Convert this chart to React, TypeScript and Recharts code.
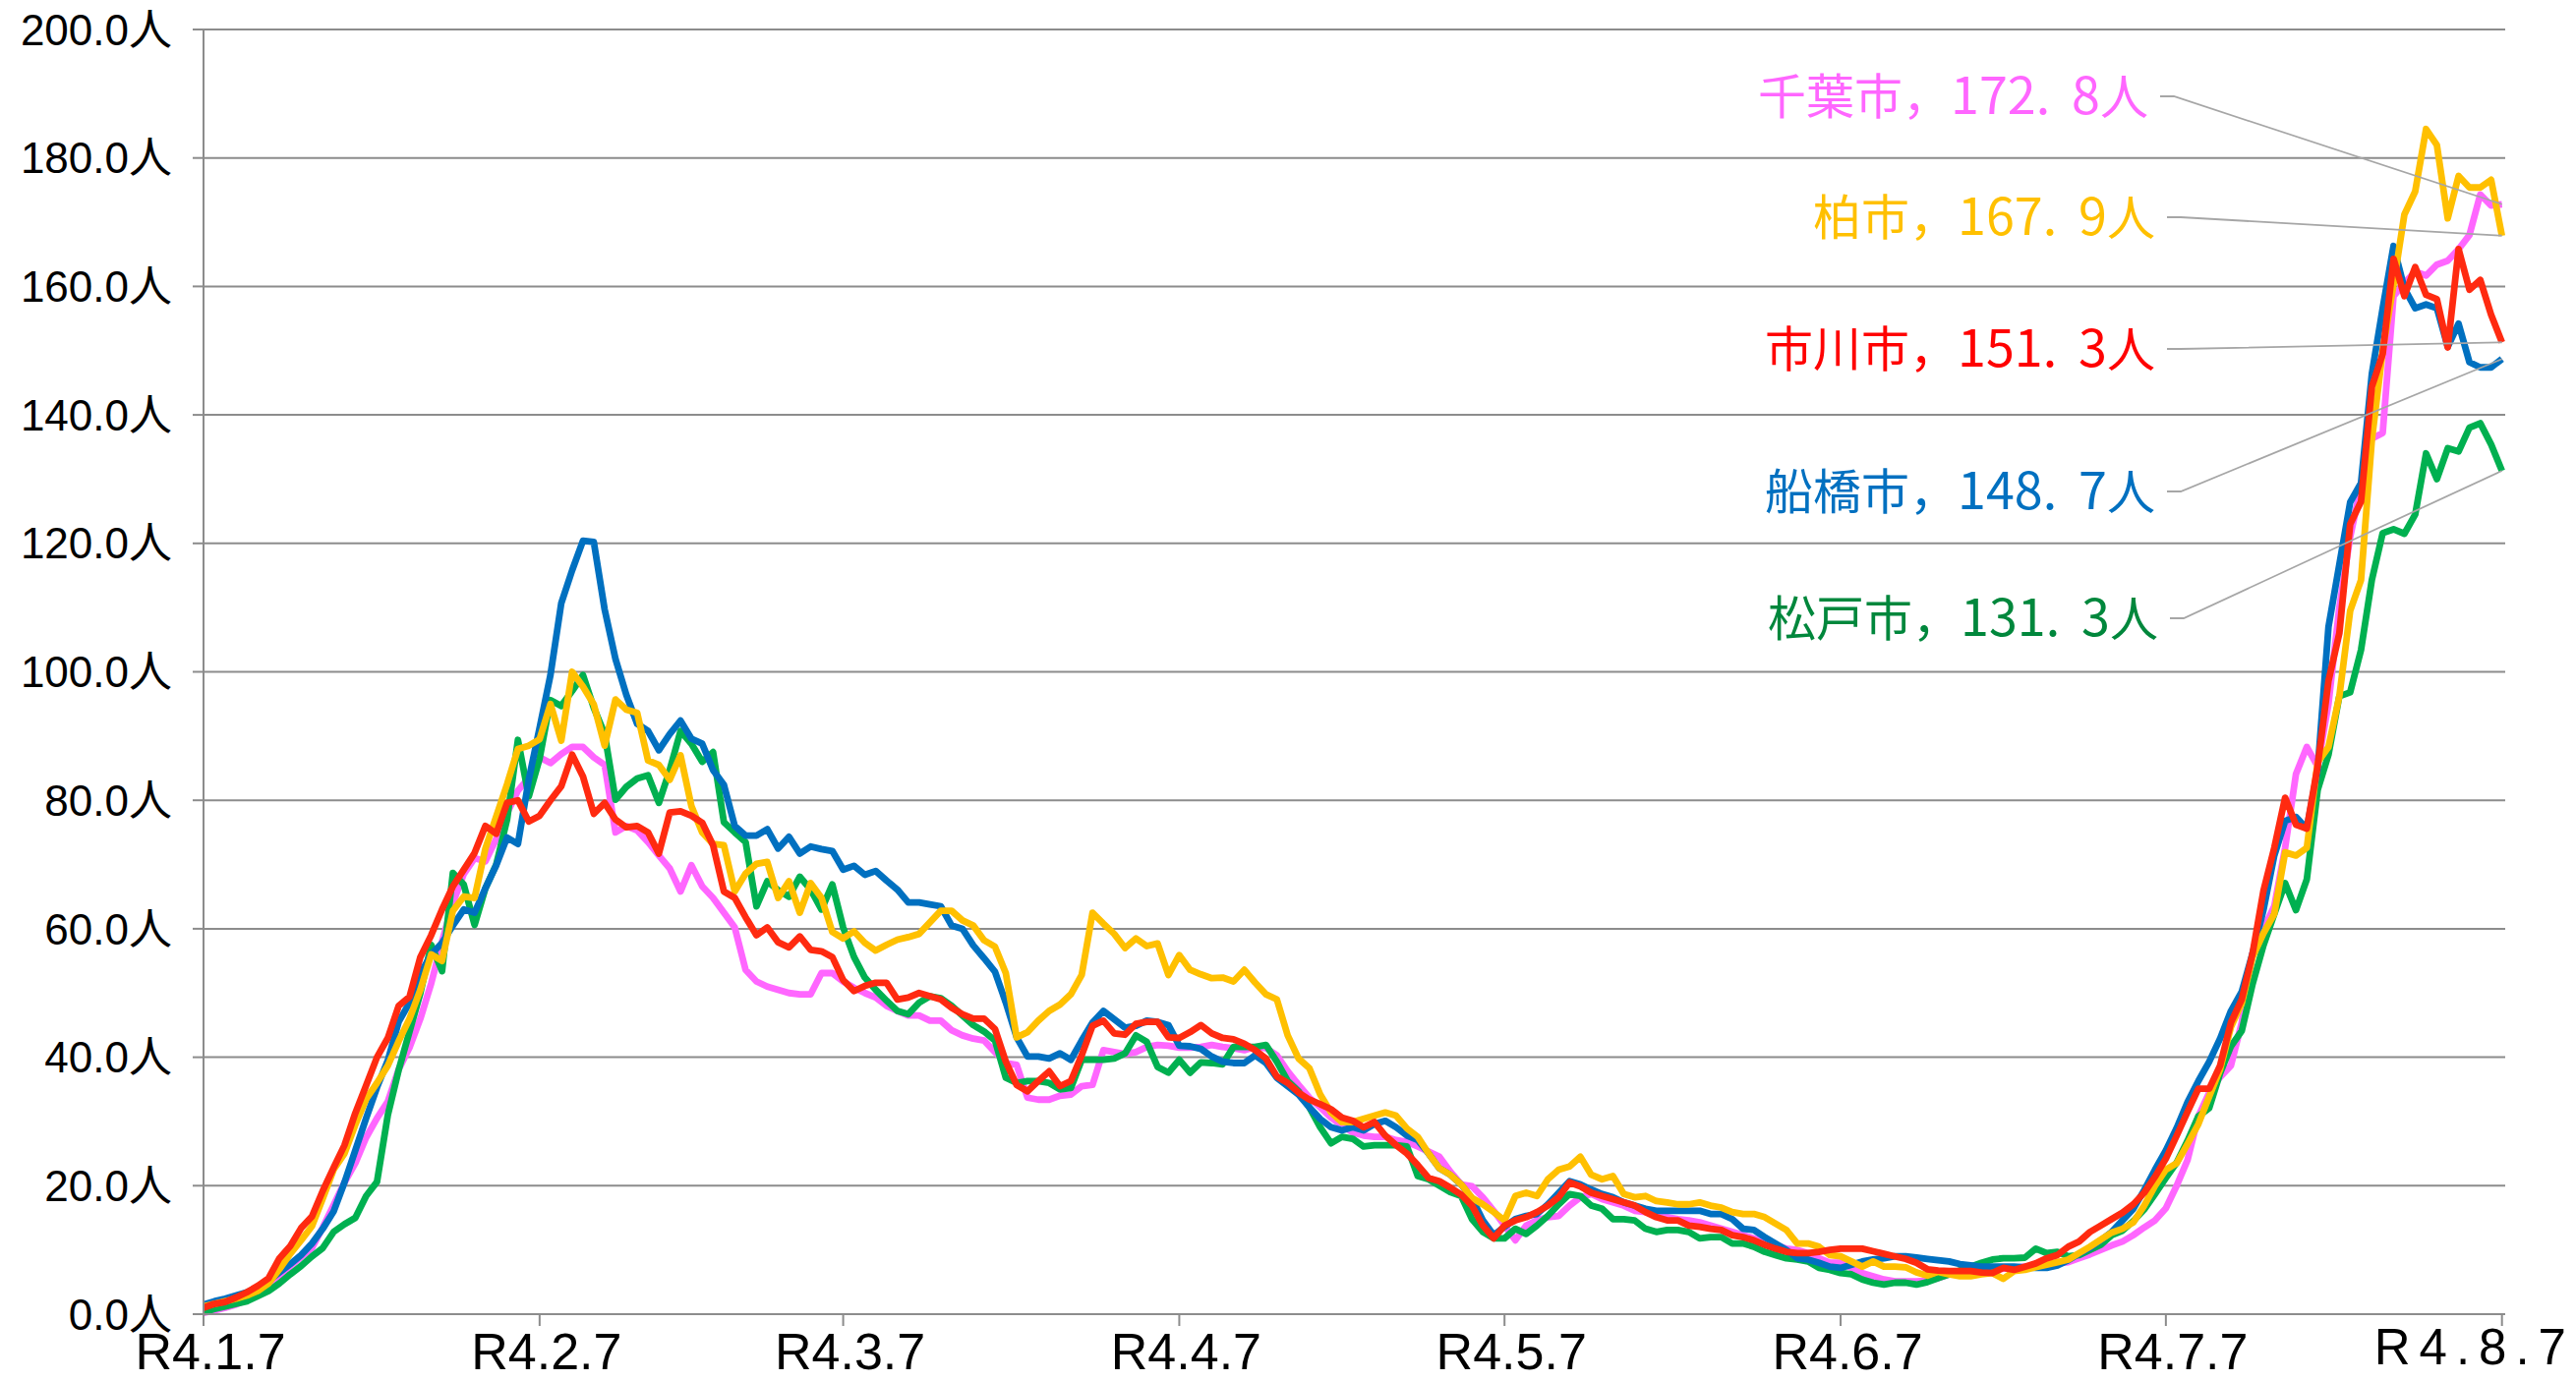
import React from 'react';
import { LineChart, Line, XAxis, YAxis, CartesianGrid, LabelList } from 'recharts';

const TICK_DAYS = [0, 31, 59, 90, 120, 151, 181, 212];
const TICK_LABELS = ['R4.1.7', 'R4.2.7', 'R4.3.7', 'R4.4.7', 'R4.5.7', 'R4.6.7', 'R4.7.7', 'R4.8.7'];
const Y_TICKS = [0, 20, 40, 60, 80, 100, 120, 140, 160, 180, 200];

// 千葉市
const chiba = [
  0.2, 0.6, 1.0, 1.5, 2.2, 3.3, 4.5, 6.0, 7.5, 8.9,
  10.3, 13.5, 17.0, 20.5, 23.5, 27.5, 30.5, 33.1, 38.1, 41.5,
  46.0, 51.5, 58.0, 64.0, 68.5, 71.0, 70.5, 74.0, 78.0, 81.5,
  83.5, 86.7, 85.8, 87.2, 88.3, 88.3, 86.7, 85.5, 75.0, 76.0,
  75.3, 73.5, 71.4, 69.4, 65.8, 69.9, 66.6, 64.8, 62.5, 60.2,
  53.6, 51.8, 51.0, 50.5, 50.0, 49.8, 49.8, 53.1, 53.1, 51.8,
  50.8, 50.0, 49.3, 48.0, 47.2, 46.5, 46.5, 45.7, 45.7, 44.2,
  43.4, 42.9, 42.6, 40.8, 39.1, 38.8, 33.7, 33.4, 33.4, 34.0,
  34.2, 35.5, 35.7, 41.1, 40.8, 40.5, 40.8, 41.6, 41.9, 41.8,
  41.5, 41.5, 41.6, 41.9, 41.6, 41.4, 41.1, 41.6, 41.4, 40.3,
  37.8, 35.7, 33.7, 32.2, 30.6, 29.4, 28.3, 27.8, 27.6, 27.6,
  27.1, 26.8, 26.1, 25.3, 24.5, 22.2, 20.2, 19.9, 18.2, 16.1,
  13.8, 11.5, 13.8, 14.6, 15.1, 15.3, 16.9, 18.2, 18.7, 17.9,
  17.4, 16.9, 16.1, 15.9, 15.3, 15.1, 14.8, 14.6, 14.3, 13.8,
  13.3, 12.8, 12.3, 11.8, 11.3, 10.8, 10.2, 10.0, 9.5, 8.7,
  8.0, 8.0, 7.2, 6.4, 5.9, 5.4, 5.1, 5.1, 5.1, 5.2,
  5.6, 6.2, 6.5, 6.7, 6.7, 6.8, 7.1, 7.2, 7.4, 7.6,
  7.9, 7.9, 8.1, 8.7, 9.3, 10.0, 10.7, 11.3, 12.3, 13.5,
  14.6, 16.5, 20.0, 24.0, 30.8, 34.5, 36.9, 38.7, 45.4, 56.2,
  60.0, 63.5, 72.6, 84.1, 88.3, 85.3, 95.0, 110.0, 121.0, 129.0,
  136.3, 137.2, 158.5, 160.5, 162.3, 161.7, 163.4, 164.0, 165.8, 168.0,
  174.3, 172.6, 172.8,
];

// 柏市
const kashiwa = [
  1.2, 1.6, 2.0, 2.4, 2.9, 3.6, 4.8, 7.0, 9.4, 11.5,
  13.7, 18.0, 22.5, 25.0, 29.5, 33.5, 36.0, 38.7, 42.5, 46.0,
  50.5, 56.0, 55.0, 62.8, 65.0, 64.8, 72.5, 77.5, 82.5, 88.0,
  88.5, 89.5, 95.0, 89.3, 100.0, 97.7, 94.9, 88.5, 95.7, 94.1,
  93.6, 86.2, 85.5, 83.2, 87.0, 79.1, 75.0, 73.2, 73.0, 65.8,
  68.6, 70.1, 70.4, 64.8, 67.4, 62.5, 67.1, 64.8, 59.5, 58.5,
  59.6, 57.8, 56.6, 57.5, 58.3, 58.7, 59.2, 61.0, 62.8, 62.8,
  61.3, 60.5, 58.2, 57.2, 53.1, 43.1, 43.9, 45.7, 47.2, 48.2,
  49.8, 52.8, 62.5, 60.8, 59.2, 57.0, 58.5, 57.3, 57.7, 52.8,
  55.9, 53.6, 52.9, 52.3, 52.4, 51.8, 53.6, 51.6, 49.8, 49.0,
  43.4, 39.8, 38.3, 34.2, 31.4, 29.9, 29.9, 30.4, 30.9, 31.4,
  30.9, 28.9, 27.6, 25.0, 22.7, 21.7, 20.2, 18.1, 17.1, 15.9,
  14.6, 18.4, 18.9, 18.4, 21.0, 22.5, 23.0, 24.5, 21.7, 21.0,
  21.5, 18.7, 18.2, 18.4, 17.6, 17.4, 17.1, 17.1, 17.4, 16.9,
  16.6, 15.9, 15.6, 15.6, 15.1, 14.1, 13.1, 11.0, 11.0, 10.5,
  9.2, 9.0, 8.2, 7.4, 8.2, 7.4, 7.4, 7.3, 6.5, 6.0,
  6.6, 6.2, 5.9, 5.9, 6.2, 6.4, 5.5, 6.7, 6.9, 7.3,
  7.7, 8.1, 8.5, 9.5, 10.5, 11.6, 12.7, 13.3, 14.3, 16.9,
  20.0, 22.5, 23.5, 26.5, 29.6, 33.9, 38.1, 44.7, 48.4, 55.6,
  59.3, 62.3, 71.9, 71.4, 72.6, 85.9, 88.3, 96.2, 109.5, 114.3,
  136.1, 150.0, 160.3, 171.2, 174.8, 184.5, 182.0, 170.6, 177.2, 175.4,
  175.4, 176.6, 167.9,
];

// 市川市
const ichikawa = [
  1.0, 1.6, 1.9, 2.6, 3.4, 4.4, 5.6, 8.7, 10.6, 13.4,
  15.2, 19.2, 22.8, 26.3, 31.3, 35.6, 40.0, 43.0, 48.0, 49.4,
  55.6, 59.0, 63.0, 66.6, 69.2, 71.8, 76.0, 74.8, 79.6, 80.0,
  76.7, 77.6, 80.0, 82.2, 87.1, 83.7, 77.9, 79.6, 77.0, 75.8,
  76.0, 75.0, 71.7, 78.1, 78.3, 77.6, 76.5, 73.0, 65.8, 64.8,
  61.8, 59.0, 60.2, 57.9, 57.1, 58.8, 56.7, 56.5, 55.6, 52.0,
  50.3, 51.1, 51.6, 51.6, 49.0, 49.3, 50.0, 49.5, 49.0, 47.7,
  46.7, 46.0, 46.0, 44.4, 39.3, 35.7, 34.7, 36.3, 37.8, 35.5,
  36.3, 40.3, 44.9, 45.7, 43.7, 43.5, 45.2, 45.5, 45.5, 43.1,
  43.0, 43.9, 45.0, 43.7, 43.0, 42.8, 42.1, 41.1, 39.8, 37.0,
  36.0, 34.5, 33.4, 32.7, 31.9, 30.6, 30.1, 29.1, 29.9, 27.8,
  26.3, 25.0, 23.2, 21.2, 20.7, 19.7, 18.6, 16.9, 13.8, 11.8,
  13.8, 14.6, 15.1, 15.9, 16.9, 18.2, 20.5, 19.9, 18.9, 18.4,
  17.9, 17.4, 16.9, 15.9, 15.1, 14.6, 14.6, 13.8, 13.6, 13.3,
  13.1, 12.3, 12.0, 11.5, 10.8, 10.2, 9.7, 9.5, 9.5, 9.7,
  10.0, 10.2, 10.2, 10.2, 9.8, 9.4, 9.0, 8.6, 8.0, 7.0,
  6.8, 6.7, 6.7, 6.7, 6.5, 6.4, 7.2, 6.9, 7.4, 7.9,
  8.7, 9.2, 10.5, 11.3, 12.8, 13.8, 14.8, 15.8, 17.1, 18.9,
  21.4, 24.2, 27.8, 31.5, 35.1, 35.1, 38.7, 45.4, 49.0, 56.2,
  65.9, 72.6, 80.4, 76.2, 75.6, 85.3, 98.6, 106.0, 123.0, 126.5,
  144.4, 149.5, 164.3, 158.5, 163.0, 158.7, 158.0, 150.5, 165.8, 159.5,
  161.0, 155.6, 151.3,
];

// 船橋市
const funabashi = [
  1.5, 2.0, 2.4, 2.9, 3.4, 4.2, 5.2, 6.5, 7.8, 9.2,
  11.0, 13.3, 16.0, 20.5, 25.5, 30.5, 35.3, 39.5, 45.5, 48.5,
  53.0, 56.0, 57.8, 60.5, 63.0, 62.5, 66.3, 69.9, 74.2, 73.2,
  83.2, 91.3, 99.5, 110.7, 115.8, 120.4, 120.2, 109.7, 102.0, 96.4,
  91.9, 90.8, 87.8, 90.3, 92.4, 89.6, 88.8, 84.7, 82.4, 76.0,
  74.5, 74.5, 75.5, 72.5, 74.3, 71.7, 72.8, 72.4, 72.1, 69.2,
  69.8, 68.4, 69.0, 67.5, 66.1, 64.1, 64.1, 63.8, 63.5, 60.5,
  60.0, 57.4, 55.4, 53.3, 48.5, 43.1, 40.1, 40.1, 39.8, 40.6,
  39.6, 42.6, 45.4, 47.2, 45.9, 44.6, 44.9, 45.7, 45.5, 45.0,
  41.8, 41.7, 41.3, 40.1, 39.3, 39.1, 39.1, 40.3, 39.1, 36.8,
  35.5, 34.2, 32.2, 30.4, 29.1, 28.6, 29.1, 28.6, 29.6, 30.1,
  29.1, 27.8, 27.1, 25.0, 22.7, 21.7, 20.2, 18.0, 14.6, 12.3,
  13.6, 14.8, 15.3, 15.6, 17.1, 18.9, 20.7, 20.2, 19.4, 18.7,
  18.2, 17.4, 16.9, 16.4, 16.1, 16.1, 16.1, 16.1, 16.1, 15.6,
  15.6, 14.8, 13.3, 13.1, 12.0, 11.0, 10.0, 8.7, 8.5, 8.0,
  7.4, 7.2, 7.7, 8.2, 8.5, 8.7, 9.0, 9.0, 8.8, 8.6,
  8.4, 8.2, 7.8, 7.6, 7.4, 7.4, 7.4, 7.4, 7.3, 7.2,
  7.2, 7.6, 8.4, 9.4, 10.3, 11.5, 12.8, 14.6, 16.4, 19.3,
  22.5, 25.5, 29.0, 33.0, 36.3, 39.3, 42.9, 47.2, 50.2, 56.2,
  62.9, 71.4, 76.8, 77.4, 75.6, 84.7, 107.0, 116.7, 126.4, 129.4,
  146.4, 156.6, 166.3, 159.7, 156.6, 157.2, 156.6, 150.6, 154.2, 148.2,
  147.4, 147.4, 148.7,
];

// 松戸市
const matsudo = [
  0.3, 0.8, 1.2, 1.6, 2.0, 2.8, 3.6, 4.8, 6.2, 7.5,
  9.0, 10.3, 12.8, 14.0, 15.0, 18.4, 20.6, 31.0, 38.0, 44.0,
  50.0, 57.5, 53.4, 68.7, 66.9, 60.6, 66.3, 70.0, 77.0, 89.4,
  80.6, 86.5, 95.6, 94.7, 97.0, 99.5, 94.4, 90.3, 80.1, 82.1,
  83.4, 83.9, 79.6, 84.7, 90.8, 88.8, 86.0, 87.5, 76.6, 75.0,
  73.5, 63.5, 67.4, 66.0, 65.0, 68.1, 66.1, 63.0, 66.9, 60.2,
  55.6, 52.4, 50.5, 48.8, 47.2, 46.7, 48.5, 49.5, 49.2, 48.0,
  46.5, 45.0, 44.0, 42.6, 36.8, 36.0, 36.3, 36.3, 36.0, 35.0,
  35.2, 39.6, 39.6, 39.6, 39.8, 40.6, 43.4, 42.4, 38.5, 37.6,
  39.6, 37.6, 39.2, 39.1, 38.9, 41.6, 41.6, 41.6, 41.9, 39.3,
  36.3, 34.7, 32.2, 29.1, 26.6, 27.6, 27.3, 26.1, 26.3, 26.3,
  26.3, 26.1, 21.5, 21.0, 20.0, 19.0, 18.4, 14.8, 12.8, 11.8,
  11.8, 13.3, 12.5, 13.8, 15.3, 17.1, 18.7, 18.4, 16.9, 16.4,
  14.8, 14.8, 14.6, 13.3, 12.8, 13.1, 13.1, 12.8, 11.8, 12.0,
  12.0, 11.0, 11.0, 10.5, 9.7, 9.2, 8.7, 8.5, 8.2, 7.2,
  6.9, 6.4, 6.2, 5.4, 4.9, 4.6, 4.9, 4.9, 4.6, 5.0,
  5.6, 6.2, 6.8, 7.4, 8.0, 8.5, 8.7, 8.7, 8.8, 10.2,
  9.5, 9.7, 9.0, 9.2, 10.0, 10.8, 12.3, 13.0, 14.5, 16.3,
  18.7, 21.2, 23.6, 27.0, 30.8, 32.1, 37.5, 41.7, 44.1, 51.4,
  57.4, 62.3, 67.1, 62.9, 67.7, 81.6, 87.1, 96.2, 96.8, 103.4,
  114.3, 121.6, 122.2, 121.5, 124.5, 134.0, 130.0, 134.8, 134.3, 138.0,
  138.7, 135.4, 131.3,
];

const data = chiba.map((v, i) => ({
  day: i,
  chiba: v,
  kashiwa: kashiwa[i],
  ichikawa: ichikawa[i],
  funabashi: funabashi[i],
  matsudo: matsudo[i],
}));

const LAST = chiba.length - 1;
const FONT = '"Noto Sans CJK JP", "Noto Sans", sans-serif';
const AXIS_FONT = '"Liberation Sans", "Noto Sans CJK JP", sans-serif';
const GRID = '#8C8C8C';

type SeriesDef = {
  key: string;
  name: string;
  line: string;
  text: string;
  labelY: number;
  labelRight: number;
};

// drawing order: first is at the bottom
const SERIES: SeriesDef[] = [
  { key: 'chiba', name: '千葉市', line: '#FF66FF', text: '#FF66FF', labelY: 98, labelRight: 2185 },
  { key: 'matsudo', name: '松戸市', line: '#00B050', text: '#00873C', labelY: 629, labelRight: 2195 },
  { key: 'funabashi', name: '船橋市', line: '#0070C0', text: '#0070C0', labelY: 500, labelRight: 2192 },
  { key: 'kashiwa', name: '柏市', line: '#FFC000', text: '#FFC000', labelY: 221, labelRight: 2192 },
  { key: 'ichikawa', name: '市川市', line: '#FF2A10', text: '#FF0000', labelY: 355, labelRight: 2192 },
];

const makeEndLabel = (s: SeriesDef) => (props: any) => {
  const { x, y, index, value } = props;
  if (index !== LAST || x == null || y == null) return null;
  const str = Number(value).toFixed(1);
  const [ip, dp] = str.split('.');
  const sx = s.labelRight + 12;
  return (
    <g>
      <polyline
        points={`${sx},${s.labelY} ${sx + 14},${s.labelY} ${x},${y}`}
        fill="none"
        stroke="#A6A6A6"
        strokeWidth={1.8}
      />
      <text
        x={s.labelRight}
        y={s.labelY + 18}
        textAnchor="end"
        fontSize={49}
        fontFamily={FONT}
        fill={s.text}
      >
        {s.name}，
        <tspan fontSize={52}>{ip}.</tspan>
        <tspan fontSize={52} dx={22}>{dp}</tspan>
        <tspan>人</tspan>
      </text>
    </g>
  );
};

const XTick = (props: any) => {
  const { x, payload } = props;
  const idx = TICK_DAYS.indexOf(payload.value);
  const label = idx >= 0 ? TICK_LABELS[idx] : '';
  if (payload.value === 212) {
    return (
      <text x={x - 130} y={1388} textAnchor="start" fontSize={51} letterSpacing={9} fill="#000" fontFamily={AXIS_FONT}>
        {label}
      </text>
    );
  }
  return (
    <text x={x + 7} y={1393} textAnchor="middle" fontSize={52} fill="#000" fontFamily={AXIS_FONT}>
      {label}
    </text>
  );
};

export default function App() {
  return (
    <div style={{ position: 'absolute', left: 0, top: 0, width: 2620, height: 1405, background: '#fff' }}>
      <LineChart width={2620} height={1405} data={data} margin={{ top: 30, right: 72, bottom: 0, left: 0 }}>
        <CartesianGrid vertical={false} stroke={GRID} strokeWidth={2} />
        <XAxis
          dataKey="day"
          type="number"
          domain={[0, 212.3]}
          ticks={TICK_DAYS}
          interval={0}
          height={68}
          tickSize={12}
          tick={<XTick />}
          axisLine={{ stroke: GRID, strokeWidth: 2 }}
          tickLine={{ stroke: GRID, strokeWidth: 2 }}
        />
        <YAxis
          type="number"
          domain={[0, 200]}
          ticks={Y_TICKS}
          interval={0}
          width={207}
          tickSize={11}
          tickMargin={21}
          tickFormatter={(v: number) => `${v.toFixed(1)}人`}
          tick={{ fill: '#000', fontSize: 44, fontFamily: AXIS_FONT }}
          axisLine={{ stroke: GRID, strokeWidth: 2 }}
          tickLine={{ stroke: GRID, strokeWidth: 2 }}
        />
        {SERIES.map((s) => (
          <Line
            key={s.key}
            dataKey={s.key}
            type="linear"
            stroke={s.line}
            strokeWidth={6.8}
            dot={false}
            activeDot={false}
            isAnimationActive={false}
            strokeLinejoin="round"
          >
            <LabelList dataKey={s.key} content={makeEndLabel(s)} />
          </Line>
        ))}
      </LineChart>
    </div>
  );
}
